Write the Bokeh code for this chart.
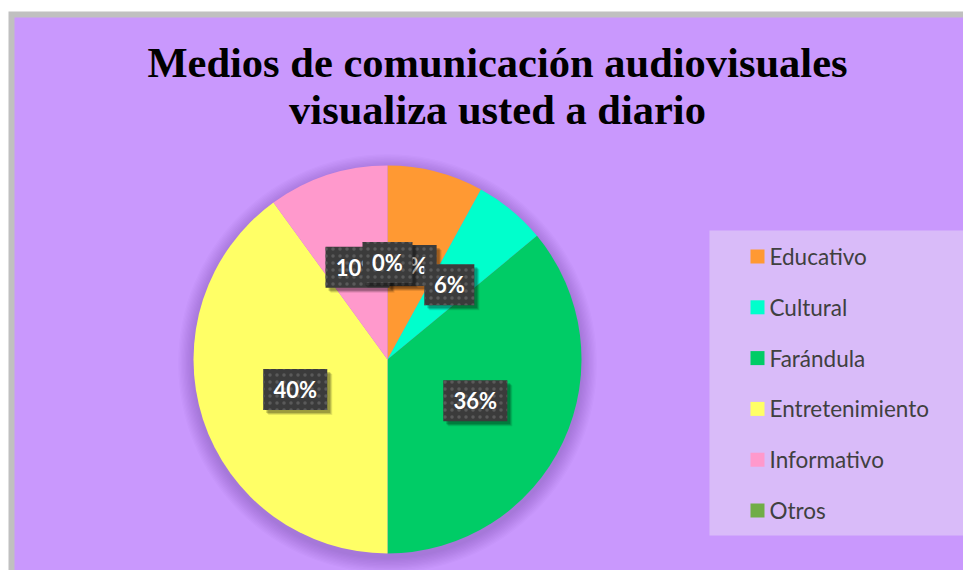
import math
from bokeh.plotting import figure
from bokeh.models import Range1d
from bokeh.embed import file_html
from bokeh.resources import INLINE
from bokeh.core.properties import value

# ---- data ----
categories = ["Educativo", "Cultural", "Farándula", "Entretenimiento", "Informativo", "Otros"]
percentages = [8, 6, 36, 40, 10, 0]
colors = ["#FF9933", "#00FFCC", "#00CC66", "#FFFF66", "#FF99CC", "#70AD47"]
title_lines = ["Medios de comunicación audiovisuales", "visualiza usted a diario"]

# ---- layout (pixel coordinates) ----
W, H = 963, 570


def Y(s):
    return H - s


p = figure(width=W, height=H, x_range=Range1d(0, W), y_range=Range1d(0, H),
           output_backend="svg", toolbar_location=None, min_border=0)
p.axis.visible = False
p.grid.visible = False
p.outline_line_color = None
p.background_fill_color = "white"
p.border_fill_color = "white"

# chart frame
p.quad(left=[8], right=[W], top=[Y(11)], bottom=[0], fill_color="#C0C0C0", line_color=None)
p.quad(left=[14], right=[W], top=[Y(17)], bottom=[0], fill_color="#C998FD", line_color=None)

# title
for i, line in enumerate(title_lines):
    p.text(x=[497], y=[Y(62 + i * 47)], text=[line], text_font=value("Liberation Serif"),
           text_font_style="bold", text_font_size="42.5px", text_color="black",
           text_align="center", text_baseline="middle")

# pie
cx, cy, R = 387, Y(359), 194
for k in range(12):
    p.circle(x=[cx], y=[cy - 4], radius=R + 1 + k * 1.3, radius_units="screen",
             fill_color="#5a2a8a", fill_alpha=0.022, line_color=None)

total = sum(percentages)
cum = 0.0
starts, ends, mids = [], [], []
for v in percentages:
    a0 = math.pi / 2 - 2 * math.pi * cum / total
    cum += v
    a1 = math.pi / 2 - 2 * math.pi * cum / total
    starts.append(a0)
    ends.append(a1)
    mids.append((a0 + a1) / 2)

for c, a0, a1, v in zip(colors, starts, ends, percentages):
    if v > 0:
        p.wedge(x=[cx], y=[cy], radius=R, radius_units="screen", start_angle=[a0], end_angle=[a1],
                direction="clock", fill_color=c, line_color=None)

# data labels
for v, m in zip(percentages, mids):
    lab = f"{v}%"
    lx = cx + 0.5 * R * math.cos(m)
    ly = cy + 0.5 * R * math.sin(m)
    bw = 22 + 14 * len(lab)
    bh = 41
    for s, al in [(5, 0.10), (4, 0.15), (3, 0.2)]:
        p.rect(x=[lx + s], y=[ly - s], width=bw, height=bh, width_units="screen",
               height_units="screen", fill_color="black", fill_alpha=al, line_color=None)
    p.rect(x=[lx], y=[ly], width=bw, height=bh, width_units="screen", height_units="screen",
           fill_color="#3B3B3B", line_color=None, hatch_pattern="dot", hatch_color="#5A5A5A",
           hatch_scale=7, hatch_weight=3)
    p.text(x=[lx], y=[ly], text=[lab], text_font=value("Lato"), text_font_style="bold",
           text_font_size="22px", text_color="white", text_align="center", text_baseline="middle")

# legend
p.quad(left=[709], right=[969], top=[Y(230)], bottom=[Y(535)], fill_color="#D9BBF9", line_color=None)
for i, (cat, c) in enumerate(zip(categories, colors)):
    yy = Y(256 + i * 50.8)
    p.rect(x=[757], y=[yy], width=14, height=14, width_units="screen", height_units="screen",
           fill_color=c, line_color=None)
    p.text(x=[769], y=[yy], text=[cat], text_font=value("Lato"), text_font_size="22.5px",
           text_color="#404040", text_align="left", text_baseline="middle")

open("out.html", "w").write(file_html(p, INLINE))
